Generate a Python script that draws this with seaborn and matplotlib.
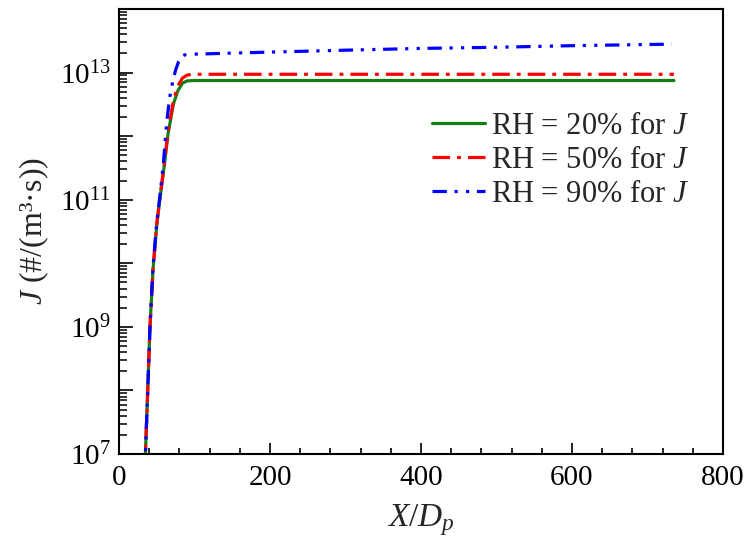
import numpy as np
import pandas as pd
import matplotlib
matplotlib.use("Agg")
import matplotlib.pyplot as plt
from matplotlib.ticker import FixedLocator, FuncFormatter, MultipleLocator, NullFormatter
import seaborn as sns

# --- data (x = X/Dp, J in #/(m^3 s)) ---
x_rh20 = [34, 38, 41, 45, 50, 54, 59, 65, 72, 78, 84, 90, 100, 200, 400, 600, 735]
j_rh20 = [5e6, 1e8, 1e9, 7.9e9, 4.0e10, 1.0e11, 2.8e11, 1.1e12, 3.2e12, 5.2e12,
          6.8e12, 7.4e12, 7.5e12, 7.5e12, 7.5e12, 7.5e12, 7.5e12]

x_rh50 = [34, 38, 41, 45, 50, 54, 59, 65, 72, 78, 84, 90, 96, 200, 400, 600, 735]
j_rh50 = [5e6, 1e8, 1e9, 8.0e9, 4.2e10, 1.05e11, 3.0e11, 1.2e12, 3.6e12, 6.2e12,
          8.2e12, 9.1e12, 9.4e12, 9.4e12, 9.4e12, 9.4e12, 9.4e12]

x_rh90 = [34, 38, 41, 45, 50, 54, 59, 63, 67, 71, 75, 79, 83, 87, 100, 200, 300, 400, 500, 600, 732]
j_rh90 = [5e6, 1e8, 1e9, 8.9e9, 4.5e10, 1.1e11, 4.0e11, 1.6e12, 4.0e12, 7.1e12,
          1.1e13, 1.5e13, 1.8e13, 1.9e13, 1.95e13, 2.1e13, 2.25e13, 2.4e13, 2.5e13, 2.65e13, 2.8e13]

labels = ["RH = 20% for $J$", "RH = 50% for $J$", "RH = 90% for $J$"]
colors = ["#137f13", "#ff0000", "#0000ff"]

sns.set_style("ticks")
plt.rcParams["font.family"] = ["Liberation Serif", "DejaVu Serif"]
plt.rcParams["mathtext.fontset"] = "custom"
plt.rcParams["mathtext.rm"] = "Liberation Serif"
plt.rcParams["mathtext.it"] = "Liberation Serif:italic"
plt.rcParams["mathtext.bf"] = "Liberation Serif:bold"

fig = plt.figure(figsize=(7.51, 5.46), dpi=100)
ax = fig.add_axes([0.1585, 0.1685, 0.8042, 0.815])

lw = 2.3
sns.lineplot(x=x_rh20, y=j_rh20, ax=ax, color=colors[0], lw=lw, label=labels[0],
             sort=False, estimator=None)
sns.lineplot(x=x_rh50, y=j_rh50, ax=ax, color=colors[1], lw=lw, label=labels[1],
             sort=False, estimator=None, linestyle=(0, (5.5, 2.2, 1.2, 2.2)))
sns.lineplot(x=x_rh90, y=j_rh90, ax=ax, color=colors[2], lw=lw, label=labels[2],
             sort=False, estimator=None, linestyle=(0, (4.5, 2.4, 1.0, 2.6, 1.0, 2.4)))

ax.set_yscale("log")
ax.set_xlim(0, 800)
ax.set_ylim(1e7, 1e14)

ax.xaxis.set_major_locator(MultipleLocator(200))
ax.xaxis.set_minor_locator(MultipleLocator(40))
decades = np.arange(7, 15)
ax.yaxis.set_major_locator(FixedLocator(10.0 ** decades))
minor_y = [m * 10.0 ** d for d in decades[:-1] for m in range(2, 10)]
ax.yaxis.set_minor_locator(FixedLocator(minor_y))
ax.yaxis.set_minor_formatter(NullFormatter())


def odd_decades(val, pos):
    e = int(round(np.log10(val)))
    return r"$10^{%d}$" % e if e % 2 == 1 else ""


ax.yaxis.set_major_formatter(FuncFormatter(odd_decades))

ax.tick_params(which="both", direction="in", top=False, right=False,
               width=1.2, labelsize=21, colors="black")
ax.tick_params(axis="y", which="major", length=10, pad=6)
ax.tick_params(axis="y", which="minor", length=6, width=1.1, left=True)
ax.tick_params(axis="x", which="major", length=8, pad=8)
ax.tick_params(axis="x", which="minor", length=4, bottom=True)
for s in ax.spines.values():
    s.set_linewidth(1.5)
    s.set_color("black")

ax.set_xlabel("$X$/$D_p$", fontsize=24, labelpad=8)
ax.set_ylabel("$J$ (#/(m³·s))", fontsize=23, labelpad=6)

ax.legend(loc="upper right", bbox_to_anchor=(0.945, 0.769), frameon=False,
          fontsize=22, handlelength=1.75, handletextpad=0.2, labelspacing=0.17,
          borderpad=0, borderaxespad=0)

fig.savefig("out.png", dpi=100)
